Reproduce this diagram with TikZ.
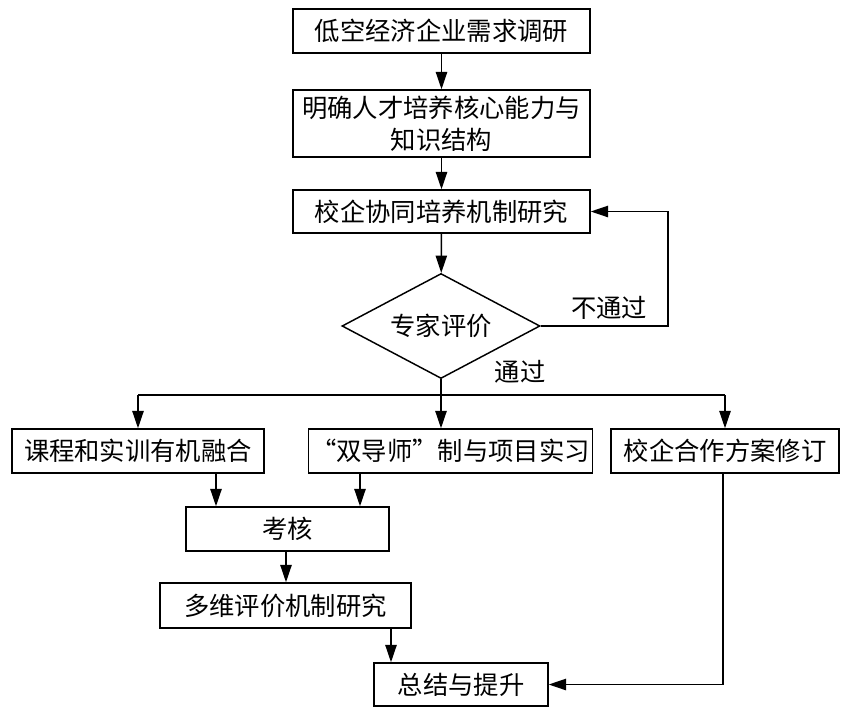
\documentclass[tikz,border=0pt]{standalone}
\usepackage{fontspec}
\setmainfont{Noto Sans CJK SC}
\usetikzlibrary{shapes.geometric,arrows.meta}

\tikzset{
  box/.style={draw, line width=1.1pt, minimum height=33pt, inner sep=2pt,
    align=center, font=\fontsize{19}{24}\selectfont},
  judge/.style={draw, diamond, line width=1.1pt, aspect=1.9, inner sep=0pt,
    minimum width=148.5pt, minimum height=78.75pt, font=\fontsize{19}{24}\selectfont},
  lbl/.style={font=\fontsize{19}{24}\selectfont, inner sep=0pt},
  arr/.style={-{Triangle[length=13pt,width=8.5pt]}, line width=1.1pt},
  line/.style={line width=1.1pt},
}

\begin{document}
\begin{tikzpicture}[x=0.75pt, y=-0.75pt]
    \useasboundingbox (0,0) rectangle (843,711);

    % Nodes
    \node[box, minimum width=222.75pt] (survey) at (441.5,31) {低空经济企业需求调研};
    \node[box, minimum width=222.75pt, minimum height=50.25pt] (ability) at (441.5,123.5) {明确人才培养核心能力与\\知识结构};
    \node[box, minimum width=222.75pt, minimum height=32.25pt] (coop) at (441.5,211.5) {校企协同培养机制研究};
    \node[judge] (expert) at (441,326) {专家评价};
    \node[box, minimum width=189pt] (course) at (138,451) {课程和实训有机融合};
    \node[box, minimum width=207.75pt] (mentor) at (450.5,451) {“双导师”制与项目实习};
    \node[box, minimum width=171pt] (revise) at (725,451) {校企合作方案修订};
    \node[box, minimum width=152.25pt] (exam) at (287.5,529) {考核};
    \node[box, minimum width=188.25pt, minimum height=33.75pt] (multi) at (285.5,605.5) {多维评价机制研究};
    \node[box, minimum width=130.5pt, minimum height=32.25pt] (sum) at (461,684.5) {总结与提升};

    % Labels
    \node[lbl] (fail) at (609,308) {不通过};
    \node[lbl] (pass) at (520,372) {通过};

    \coordinate (loop) at (668,326);
    \coordinate (fork) at (441,395);

    % Arrows
    \draw[arr] (survey) -- (ability);
    \draw[arr] (ability) -- (coop);
    \draw[arr] (coop) -- (expert);
    \draw[arr] (expert.east) -- (loop) |- (coop.east);
    \draw[line] (expert.south) -- (fork);
    \draw[line] (course.north |- fork) -- (revise.north |- fork);
    \draw[arr] (course.north |- fork) -- (course.north);
    \draw[arr] (fork) -- (fork |- mentor.north);
    \draw[arr] (revise.north |- fork) -- (revise.north);
    \draw[arr] (course.south -| 216,0) -- (exam.north -| 216,0);
    \draw[arr] (mentor.south -| 360,0) -- (exam.north -| 360,0);
    \draw[arr] (exam.south -| 286,0) -- (multi.north -| 286,0);
    \draw[arr] (multi.south -| 391,0) -- (sum.north -| 391,0);
    \draw[arr] (revise.south -| 723,0) |- (sum.east);
  \end{tikzpicture}
\end{document}
